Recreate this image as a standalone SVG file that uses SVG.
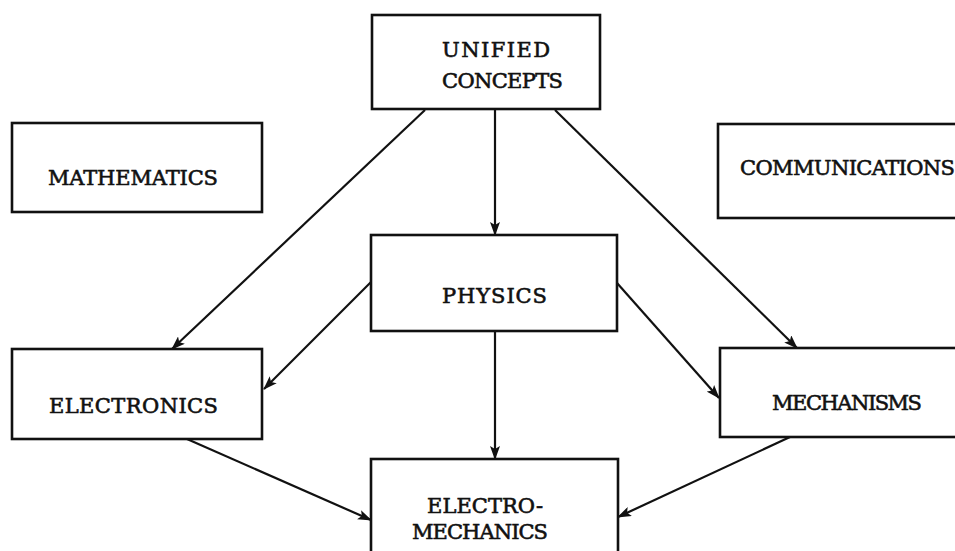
<svg xmlns="http://www.w3.org/2000/svg" width="955" height="551" viewBox="0 0 955 551">
<style>
.box{fill:#fff;stroke:#111;stroke-width:2.6}
.lbl{font-family:"DejaVu Serif","Liberation Serif",serif;font-size:21px;fill:#111;stroke:#111;stroke-width:0.6}
.edge{stroke:#111;stroke-width:2.2;fill:none;marker-end:url(#ah)}
</style>
<defs>
<marker id="ah" viewBox="0 0 14 10" refX="13" refY="5" markerWidth="14" markerHeight="10" markerUnits="userSpaceOnUse" orient="auto">
<path d="M0,0 L14,5 L0,10 L3,5 Z" fill="#111"/>
</marker>
</defs>
<rect width="955" height="551" fill="#fff"/>
<g id="connectors">
<line class="edge" x1="425" y1="110" x2="172" y2="349"/>
<line class="edge" x1="495" y1="110" x2="495" y2="235"/>
<line class="edge" x1="555" y1="110" x2="797" y2="348"/>
<line class="edge" x1="371" y1="282" x2="264" y2="389"/>
<line class="edge" x1="617" y1="283" x2="719" y2="398"/>
<line class="edge" x1="495" y1="331" x2="495" y2="459"/>
<line class="edge" x1="187" y1="439" x2="371" y2="520"/>
<line class="edge" x1="790" y1="437" x2="618" y2="517"/>
</g>
<g id="unified">
<rect class="box" x="372" y="15" width="228" height="94"/>
<text class="lbl" x="442" y="57" textLength="108">UNIFIED</text>
<text class="lbl" x="442" y="88" textLength="121">CONCEPTS</text>
</g>
<g id="mathematics">
<rect class="box" x="12" y="123" width="250" height="89"/>
<text class="lbl" x="48" y="185" textLength="170">MATHEMATICS</text>
</g>
<g id="communications">
<rect class="box" x="718" y="124" width="250" height="94"/>
<text class="lbl" x="740" y="175" textLength="215">COMMUNICATIONS</text>
</g>
<g id="physics">
<rect class="box" x="371" y="235" width="246" height="96"/>
<text class="lbl" x="442" y="303" textLength="105">PHYSICS</text>
</g>
<g id="electronics">
<rect class="box" x="12" y="349" width="250" height="90"/>
<text class="lbl" x="49" y="413" textLength="169">ELECTRONICS</text>
</g>
<g id="mechanisms">
<rect class="box" x="720" y="348" width="250" height="89"/>
<text class="lbl" x="772" y="410" textLength="150">MECHANISMS</text>
</g>
<g id="electromechanics">
<rect class="box" x="371" y="459" width="247" height="110"/>
<text class="lbl" x="427" y="513" textLength="116">ELECTRO-</text>
<text class="lbl" x="412" y="539" textLength="136">MECHANICS</text>
</g>
</svg>
